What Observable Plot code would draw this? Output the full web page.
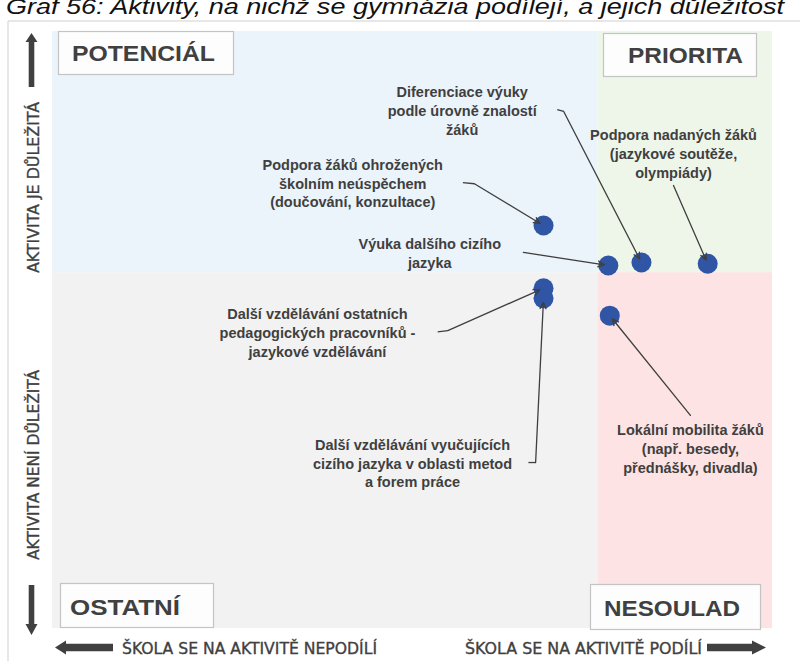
<!DOCTYPE html>
<html>
<head>
<meta charset="utf-8">
<script src="https://cdn.jsdelivr.net/npm/d3@7"></script>
<script src="https://cdn.jsdelivr.net/npm/@observablehq/plot@0.6"></script>
<style>
  html, body { margin: 0; padding: 0; background: #fff; overflow: hidden; }
  svg { display: block; }
</style>
</head>
<body>
<script>
// ---------- data ----------
const chartTitle = "Graf 56: Aktivity, na nichž se gymnázia podílejí, a jejich důležitost";

const activityNames = [
  "Podpora žáků ohrožených školním neúspěchem (doučování, konzultace)",
  "Výuka dalšího cizího jazyka",
  "Diferenciace výuky podle úrovně znalostí žáků",
  "Podpora nadaných žáků (jazykové soutěže, olympiády)",
  "Další vzdělávání ostatních pedagogických pracovníků - jazykové vzdělávání",
  "Další vzdělávání vyučujících cizího jazyka v oblasti metod a forem práce",
  "Lokální mobilita žáků (např. besedy, přednášky, divadla)"
];
const labelTexts = [
  "Podpora žáků ohrožených\nškolním neúspěchem\n(doučování, konzultace)",
  "Výuka dalšího cizího\njazyka",
  "Diferenciace výuky\npodle úrovně znalostí\nžáků",
  "Podpora nadaných žáků\n(jazykové soutěže,\nolympiády)",
  "Další vzdělávání ostatních\npedagogických pracovníků -\njazykové vzdělávání",
  "Další vzdělávání vyučujících\ncizího jazyka v oblasti metod\na forem práce",
  "Lokální mobilita žáků\n(např. besedy,\npřednášky, divadla)"
];
// participation of schools (x) and importance (y)
const participation = [68.2, 77.2, 81.8, 91.0, 68.2, 68.2, 77.4];
const importance    = [67.5, 60.8, 61.3, 61.1, 57.0, 55.3, 52.4];

// annotation anchors (data units)
const labelX  = [41.7, 52.4, 56.9, 86.25, 36.8, 50.0, 88.6];
const labelY  = [74.7, 63.0, 86.9, 79.7, 49.7, 27.8, 30.2];
const leaderX = [57.0, 65.4, 70.1, 86.25, 53.5, 66.1, 88.6];
const leaderY = [74.7, 63.0, 86.9, 74.2, 49.7, 27.8, 35.7];
const bendX   = [58.6, 65.4, 71.0, 86.25, 54.9, 67.1, 88.6];
const bendY   = [74.5, 63.0, 86.6, 74.2, 49.9, 27.8, 35.7];

const quadrantNames  = ["POTENCIÁL", "PRIORITA", "OSTATNÍ", "NESOULAD"];
const quadrantColors = ["#EBF3FB", "#EEF6EA", "#F2F2F2", "#FDE3E3"];
const thresholdX = 75.8;
const thresholdY = 59.6;
const domainX = [0, 100];
const domainY = [0, 100];

const axisLabelsX = ["ŠKOLA SE NA AKTIVITĚ NEPODÍLÍ", "ŠKOLA SE NA AKTIVITĚ PODÍLÍ"];
const axisLabelsY = ["AKTIVITA JE DŮLEŽITÁ", "AKTIVITA NENÍ DŮLEŽITÁ"];

// ---------- tables ----------
const rows = activityNames.map((name, i) => ({
  name, label: labelTexts[i],
  x: participation[i], y: importance[i],
  lx: labelX[i], ly: labelY[i],
  sx: leaderX[i], sy: leaderY[i],
  bx: bendX[i], by: bendY[i]
}));
const quads = [
  {q: quadrantNames[0], x1: domainX[0], x2: thresholdX, y1: thresholdY, y2: domainY[1]},
  {q: quadrantNames[1], x1: thresholdX, x2: domainX[1], y1: thresholdY, y2: domainY[1]},
  {q: quadrantNames[2], x1: domainX[0], x2: thresholdX, y1: domainY[0], y2: thresholdY},
  {q: quadrantNames[3], x1: thresholdX, x2: domainX[1], y1: domainY[0], y2: thresholdY}
];

const ink = "#3f3f3f";
const plot = Plot.plot({
  width: 800, height: 661,
  marginLeft: 52, marginRight: 28, marginTop: 31, marginBottom: 33,
  x: {domain: domainX, axis: null},
  y: {domain: domainY, axis: null},
  color: {domain: quadrantNames, range: quadrantColors},
  style: {fontFamily: "'Liberation Sans', Arial, sans-serif", background: "#fff", overflow: "visible"},
  marks: [
    Plot.rect(quads, {x1: "x1", x2: "x2", y1: "y1", y2: "y2", fill: "q"}),
    Plot.dot(rows, {x: "x", y: "y", r: 10, fill: "#2F55A4"}),
    Plot.link(rows, {x1: "sx", y1: "sy", x2: "bx", y2: "by", stroke: ink, strokeWidth: 1.3}),
    Plot.arrow(rows, {x1: "bx", y1: "by", x2: "x", y2: "y", stroke: ink, strokeWidth: 1.3, headLength: 8, headAngle: 50, insetEnd: 4}),
    Plot.text(rows, {x: "lx", y: "ly", text: "label", fontSize: 14.5, fontWeight: "bold", lineHeight: 1.3,
      fill: ink, textAnchor: "middle"})
  ]
});
document.body.appendChild(plot);

// ---------- decorations (frame, quadrant boxes, axis arrows & labels) ----------
const svg = d3.select(plot);
const [L, R] = plot.scale("x").range;
const [B, T] = plot.scale("y").range;
const W = 800, H = 661;
const dec = svg.append("g").attr("text-anchor", "start");

// outer frame
dec.append("path").attr("d", `M${L - 44},${H + 2} V${T - 10} H${W + 2}`)
  .attr("fill", "none").attr("stroke", "#cfcfcf").attr("stroke-width", 1);

// title (top cut off like the reference)
dec.append("text").attr("x", 6).attr("y", 14).attr("text-anchor", "start")
  .attr("font-size", 22).attr("font-style", "italic").attr("fill", "#111")
  .attr("textLength", 778).attr("lengthAdjust", "spacingAndGlyphs")
  .text(chartTitle);

// quadrant label boxes
const boxes = [
  {x: L + 6,   y: T,      w: 175, h: 43, tx: L + 20,  ty: T + 30,  tl: 143},
  {x: R - 169, y: T + 2,  w: 153, h: 43, tx: R - 144, ty: T + 31.5, tl: 115},
  {x: L + 8,   y: B - 45, w: 153, h: 44, tx: L + 18,  ty: B - 13,  tl: 110},
  {x: R - 182, y: B - 44, w: 170, h: 45, tx: R - 168, ty: B - 12,  tl: 136}
];
boxes.forEach((b, i) => {
  dec.append("rect").attr("x", b.x + 0.5).attr("y", b.y + 0.5).attr("width", b.w).attr("height", b.h)
    .attr("fill", "#fdfdfd").attr("stroke", "#c4c4c4").attr("stroke-width", 1.2);
  dec.append("text").attr("x", b.tx).attr("y", b.ty).attr("text-anchor", "start")
    .attr("font-size", 22).attr("font-weight", "bold").attr("fill", "#404040")
    .attr("textLength", b.tl).attr("lengthAdjust", "spacingAndGlyphs")
    .text(quadrantNames[i]);
});

// block arrows
const arrowInk = "#404040";
const vx = L - 20.5;
const hy = B + 19.5;
const arrows = [
  // up
  `M${vx - 2.8},${T + 56} V${T + 11} H${vx - 6} L${vx},${T + 2} L${vx + 6},${T + 11} H${vx + 2.8} V${T + 56} Z`,
  // down
  `M${vx - 2.8},${B - 43} V${B - 4} H${vx - 6} L${vx},${B + 7} L${vx + 6},${B - 4} H${vx + 2.8} V${B - 43} Z`,
  // left
  `M${L + 61},${hy - 3.7} H${L + 14} V${hy - 7} L${L + 3},${hy} L${L + 14},${hy + 7} V${hy + 3.7} H${L + 61} Z`,
  // right
  `M${R - 65},${hy - 3.7} H${R - 20} V${hy - 7} L${R - 6},${hy} L${R - 20},${hy + 7} V${hy + 3.7} H${R - 65} Z`
];
arrows.forEach(d => dec.append("path").attr("d", d).attr("fill", arrowInk));

// axis labels
const narrow = "'Liberation Sans Narrow', 'Arial Narrow', 'DejaVu Sans Condensed', sans-serif";
const axisX = [{x: L + 70, tl: 255}, {x: R - 307, tl: 237}];
axisX.forEach((a, i) => {
  dec.append("text").attr("x", a.x).attr("y", B + 26).attr("text-anchor", "start")
    .attr("font-family", narrow).attr("font-size", 15).attr("fill", arrowInk)
    .attr("stroke", arrowInk).attr("stroke-width", 0.3)
    .attr("textLength", a.tl).attr("lengthAdjust", "spacingAndGlyphs")
    .text(axisLabelsX[i]);
});
const axisY = [{y: T + 242, tl: 171}, {y: B - 68, tl: 190}];
axisY.forEach((a, i) => {
  dec.append("text").attr("transform", `translate(${L - 13},${a.y}) rotate(-90)`).attr("text-anchor", "start")
    .attr("font-family", narrow).attr("font-size", 15).attr("fill", arrowInk)
    .attr("stroke", arrowInk).attr("stroke-width", 0.3)
    .attr("textLength", a.tl).attr("lengthAdjust", "spacingAndGlyphs")
    .text(axisLabelsY[i]);
});
</script>
</body>
</html>
